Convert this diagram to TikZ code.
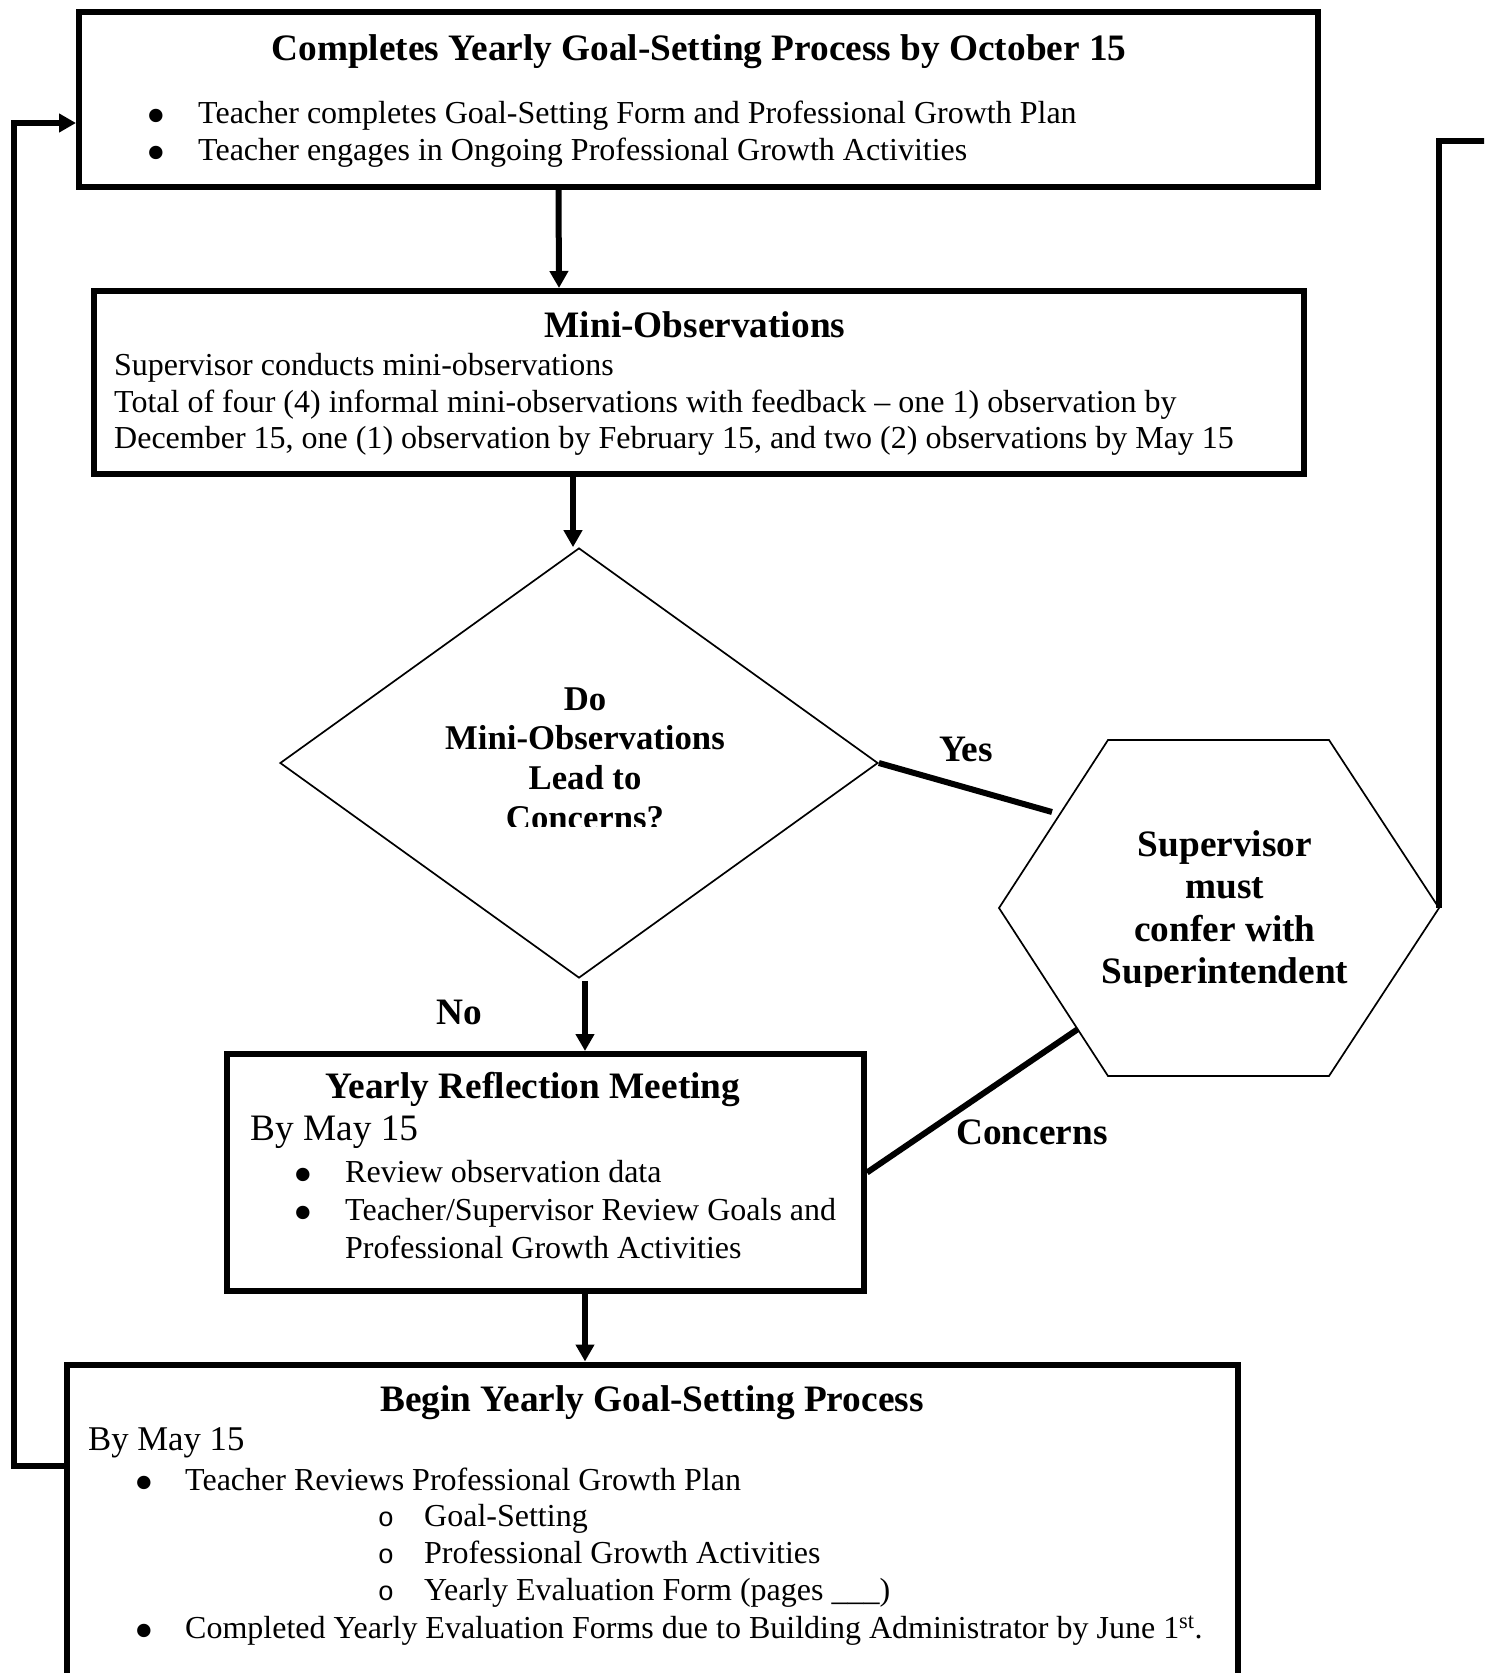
\documentclass[tikz,border=0pt]{standalone}
\usepackage{fontspec}
\setmainfont{Liberation Serif}
\newfontfamily\monof{Liberation Mono}
\usetikzlibrary{arrows.meta,shapes.geometric}
\tikzset{
  box/.style={draw, rectangle, line width=6pt, inner sep=0pt, fill=white},
  thinshape/.style={draw, line width=1.7pt, inner sep=0pt},
  conn/.style={line width=6pt},
  arr/.style={line width=6pt, -{Triangle[length=17pt,width=18pt]}},
  body/.style={inner sep=0pt, font=\fontsize{32}{37}\selectfont},
  bodyl/.style={inner sep=0pt, font=\fontsize{37.3}{43}\selectfont},
  bodym/.style={inner sep=0pt, font=\fontsize{34.7}{40}\selectfont},
  ttl/.style={inner sep=0pt, font=\fontsize{37.3}{43}\selectfont\bfseries},
  dtxt/.style={inner sep=0pt, font=\fontsize{34.7}{40}\selectfont\bfseries},
  bul/.style={inner sep=0pt, anchor=base, yshift=-11.9pt, font=\fontsize{56}{58}\selectfont},
  subbul/.style={inner sep=0pt, anchor=base, font=\fontsize{27}{30}\selectfont\monof},
}
\begin{document}
\begin{tikzpicture}[x=1pt,y=-1pt]
\useasboundingbox (0,0) rectangle (1484,1673);
\fill[white] (0,0) rectangle (1484,1673);
\clip (0,0) rectangle (1484,1673);

% ---- shapes ----
\node[box, minimum width=1239pt, minimum height=175pt] (top) at (698.5,99.5) {};
\node[box, minimum width=1210pt, minimum height=183pt] (mini) at (699,382.5) {};
\node[thinshape, diamond, minimum width=598pt, minimum height=430pt] (dia) at (579,763) {};
\node[rectangle, inner sep=0pt, outer sep=0pt, minimum width=440pt, minimum height=336pt] (hex) at (1219,908) {};
\draw[line width=1.7pt] (hex.west) -- ([xshift=109pt]hex.north west) -- ([xshift=-110pt]hex.north east)
  -- (hex.east) -- ([xshift=-110pt]hex.south east) -- ([xshift=109pt]hex.south west) -- cycle;
\node[box, minimum width=637pt, minimum height=237pt] (yearly) at (545.5,1172.5) {};
\node[box, minimum width=1171pt, minimum height=356pt] (bottom) at (652.5,1542.5) {};

% ---- helper coordinates ----
\coordinate (yesend) at (1052,812);
\coordinate (hexll) at (1078,1029);
\coordinate (rtop) at (1439,141);
\coordinate (rout) at (1500,141);
\coordinate (lb) at (14,1466);
\coordinate (lt) at (14,123);

% ---- connectors ----
\draw[arr] ([xshift=-140pt]top.south) -- ([xshift=-140pt]mini.north);
\draw[arr] ([xshift=-126pt]mini.south) -- ([xshift=-126pt]mini.south |- dia.north);
\draw[arr] ([xshift=6pt,yshift=-2pt]dia.south) -- ([xshift=6pt]dia.south |- yearly.north);
\draw[arr] ([xshift=39.5pt]yearly.south) -- ([xshift=39.5pt]yearly.south |- bottom.north);
\draw[conn] (dia.east) -- (yesend);
\draw[conn] (yearly.east) -- (hexll);
\draw[conn] (hex.east) -- (rtop) -- (rout);
\draw[arr] (bottom.west |- lb) -- (lb) -- (lt) -- (top.west |- lt);

% ---- top box text ----
\node[ttl, anchor=base] (t0) at (699,60) {Completes Yearly Goal-Setting Process by October 15};
\node[bul] (tb1) at (156,123) {•};
\node[body, anchor=base west] (t1) at (198,123) {Teacher completes Goal-Setting Form and Professional Growth Plan};
\node[bul] (tb2) at (156,160) {•};
\node[body, anchor=base west] (t2) at (198,160) {Teacher engages in Ongoing Professional Growth Activities};

% ---- mini box text ----
\node[ttl, anchor=base] (m0) at (695,337) {Mini-Observations};
\node[body, anchor=base west] (m1) at (114,375) {Supervisor conducts mini-observations};
\node[body, anchor=base west] (m2) at (114,412) {Total of four (4) informal mini-observations with feedback – one 1) observation by};
\node[body, anchor=base west] (m3) at (114,448) {December 15, one (1) observation by February 15, and two (2) observations by May 15};

% ---- diamond text ----
\node[dtxt, anchor=base] (d1) at (585,710) {Do};
\node[dtxt, anchor=base] (d2) at (585,749) {Mini-Observations};
\node[dtxt, anchor=base] (d3) at (585,789) {Lead to};
\begin{scope}
  \clip (420,790) rectangle (760,826);
  \node[dtxt, anchor=base] (d4) at (585,829) {Concerns?};
\end{scope}

% ---- hexagon text ----
\node[ttl, anchor=base] (h1) at (1225,856) {Supervisor};
\node[ttl, anchor=base] (h2) at (1225,898) {must};
\node[ttl, anchor=base] (h3) at (1225,941) {confer with};
\begin{scope}
  \clip (1080,940) rectangle (1380,986);
  \node[ttl, anchor=base] (h4) at (1225,983) {Superintendent};
\end{scope}

% ---- connector labels ----
\node[ttl, anchor=base] (lyes) at (966,761) {Yes};
\node[ttl, anchor=base] (lno) at (459,1024) {No};
\node[ttl, anchor=base] (lcon) at (1032,1144) {Concerns};

% ---- yearly box text ----
\node[ttl, anchor=base] (y0) at (533,1098) {Yearly Reflection Meeting};
\node[bodyl, anchor=base west] (y1) at (250,1140) {By May 15};
\node[bul] (yb1) at (303,1182) {•};
\node[body, anchor=base west] (y2) at (345,1182) {Review observation data};
\node[bul] (yb2) at (303,1220) {•};
\node[body, anchor=base west] (y3) at (345,1220) {Teacher/Supervisor Review Goals and};
\node[body, anchor=base west] (y4) at (345,1258) {Professional Growth Activities};

% ---- bottom box text ----
\node[ttl, anchor=base] (g0) at (652,1411) {Begin Yearly Goal-Setting Process};
\node[bodym, anchor=base west] (g1) at (88,1450) {By May 15};
\node[bul] (gb1) at (144,1490) {•};
\node[body, anchor=base west] (g2) at (185,1490) {Teacher Reviews Professional Growth Plan};
\node[subbul] (gs1) at (386,1526) {o};
\node[body, anchor=base west] (g3) at (424,1526) {Goal-Setting};
\node[subbul] (gs2) at (386,1563) {o};
\node[body, anchor=base west] (g4) at (424,1563) {Professional Growth Activities};
\node[subbul] (gs3) at (386,1600) {o};
\node[body, anchor=base west] (g5) at (424,1600) {Yearly Evaluation Form (pages \_\_\_)};
\node[bul] (gb2) at (144,1638) {•};
\node[body, anchor=base west] (g6) at (185,1638) {Completed Yearly Evaluation Forms due to Building Administrator by June 1\textsuperscript{st}.};
\end{tikzpicture}
\end{document}
